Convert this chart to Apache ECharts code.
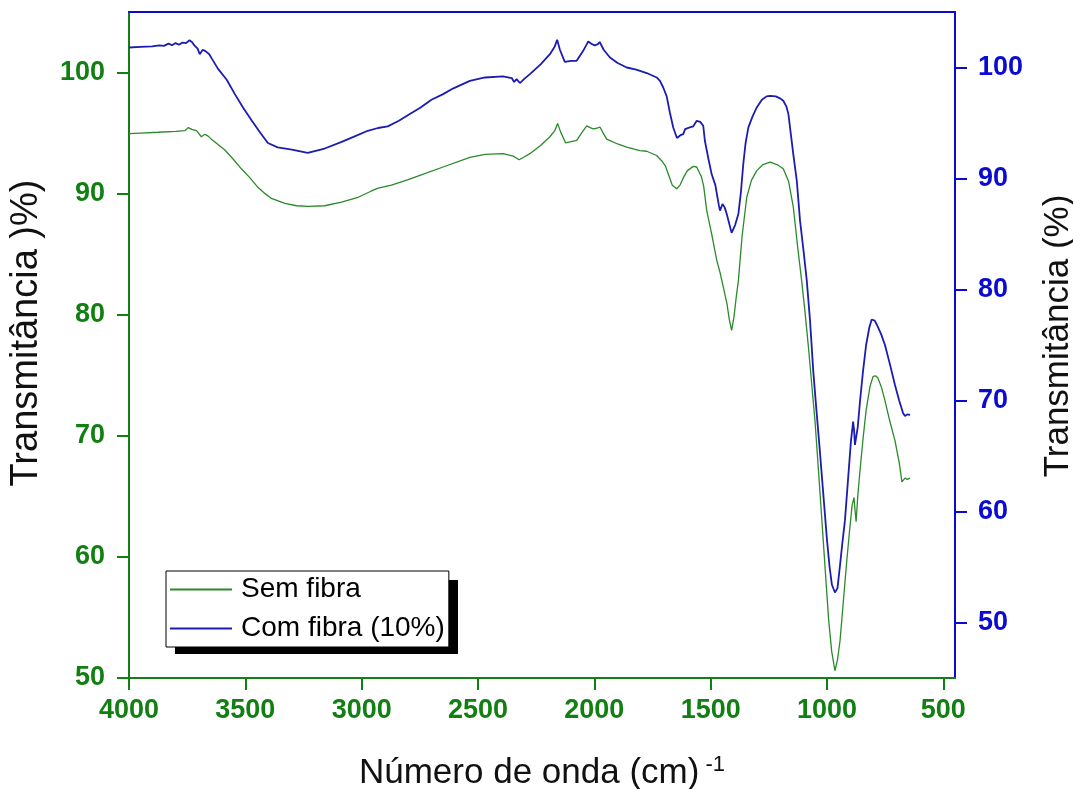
<!DOCTYPE html>
<html>
<head>
<meta charset="utf-8">
<script src="https://cdn.jsdelivr.net/npm/echarts@6/dist/echarts.min.js"></script>
<style>
html,body{margin:0;padding:0;background:#fff;overflow:hidden;}
#chart{width:1073px;height:789px;}
</style>
</head>
<body>
<div id="chart"></div>
<script>
// Tick labels
var xTicks = [4000, 3500, 3000, 2500, 2000, 1500, 1000, 500];
var yLeftTicks = [50, 60, 70, 80, 90, 100];
var yRightTicks = [50, 60, 70, 80, 90, 100];

// Series names
var seriesNames = ['Sem fibra', 'Com fibra (10%)'];

// Sem fibra (green, left axis)
var semWave = [4000,3950,3875,3800,3760,3746,3730,3710,3689,3674,3660,3646,3620,3588,3550,3517,3480,3445,3415,3388,3330,3280,3230,3159,3087,3015,2960,2929,2872,2800,2750,2650,2535,2470,2392,2349,2323,2300,2277,2230,2191,2170,2158,2145,2124,2100,2076,2055,2033,2018,2005,1990,1976,1962,1947,1900,1861,1804,1775,1732,1710,1695,1682,1665,1646,1632,1618,1600,1575,1560,1553,1540,1530,1517,1495,1474,1460,1446,1430,1420,1410,1400,1390,1381,1365,1345,1325,1302,1275,1245,1215,1188,1165,1145,1125,1109,1095,1080,1066,1052,1037,1022,1008,993,980,966,955,944,930,915,903,892,884,878,875,868,858,845,832,815,802,790,781,766,751,730,708,690,678,670,665,655,643];
var semT = [94.95,95.0,95.07,95.15,95.2,95.45,95.3,95.2,94.7,94.9,94.75,94.5,94.1,93.6,92.8,92.05,91.3,90.5,90.0,89.6,89.2,89.0,88.95,89.0,89.3,89.7,90.2,90.45,90.7,91.15,91.5,92.2,93.0,93.25,93.3,93.1,92.8,93.05,93.3,94.0,94.7,95.2,95.8,95.1,94.2,94.3,94.4,95.0,95.6,95.45,95.35,95.4,95.5,95.0,94.5,94.1,93.85,93.56,93.5,93.15,92.7,92.3,91.6,90.7,90.4,90.7,91.3,91.9,92.25,92.2,92.05,91.4,90.6,88.6,86.6,84.5,83.5,82.3,80.9,79.6,78.7,79.8,81.5,82.8,86.5,89.7,91.1,91.9,92.4,92.6,92.4,92.05,91.0,88.9,85.4,82.8,80.3,77.35,74.3,71.3,67.2,63.0,59.0,54.8,52.2,50.6,51.5,53.1,56.3,59.7,62.2,64.3,64.9,63.5,62.9,65.0,67.2,69.8,72.1,74.1,74.9,74.95,74.75,74.0,72.9,71.2,69.6,67.8,66.2,66.1,66.5,66.4,66.5];

// Com fibra (10%) (blue, right axis)
var comWave = [4000,3950,3900,3870,3850,3830,3815,3800,3785,3770,3755,3740,3730,3717,3705,3696,3683,3670,3655,3644,3618,3580,3545,3510,3472,3435,3403,3361,3300,3232,3159,3086,3030,2974,2930,2888,2840,2802,2750,2700,2650,2608,2535,2470,2393,2355,2345,2334,2320,2300,2277,2230,2191,2170,2160,2148,2127,2100,2076,2048,2026,2010,1998,1985,1977,1960,1933,1900,1861,1820,1775,1732,1718,1704,1689,1675,1661,1645,1630,1618,1610,1603,1590,1575,1560,1553,1545,1532,1525,1510,1496,1480,1465,1460,1449,1440,1431,1410,1395,1381,1370,1360,1350,1338,1320,1302,1280,1260,1245,1220,1200,1188,1175,1166,1145,1130,1116,1100,1087,1073,1059,1045,1031,1015,1000,989,979,966,955,945,935,923,910,897,892,888,884,880,875,868,858,845,832,818,808,802,795,785,768,751,730,708,690,673,665,655,643];
var comT = [101.8,101.85,101.9,102.0,101.95,102.15,102.0,102.2,102.05,102.25,102.2,102.45,102.3,101.95,101.7,101.2,101.6,101.45,101.2,100.8,99.9,98.9,97.6,96.4,95.2,94.1,93.2,92.8,92.6,92.3,92.7,93.3,93.8,94.3,94.55,94.7,95.2,95.7,96.35,97.1,97.6,98.1,98.8,99.1,99.2,99.05,98.7,98.95,98.6,99.0,99.4,100.3,101.2,101.9,102.5,101.6,100.5,100.6,100.6,101.5,102.35,102.1,102.0,102.1,102.3,101.6,100.9,100.4,100.0,99.8,99.5,99.1,98.8,98.2,97.4,95.9,94.6,93.65,93.9,94.0,94.45,94.3,94.6,94.7,95.2,95.05,95.1,94.75,93.4,91.8,90.4,89.4,87.6,87.1,87.7,87.4,86.8,85.1,85.8,86.8,88.8,91.3,93.2,94.6,95.6,96.4,97.1,97.4,97.45,97.4,97.2,97.0,96.5,95.8,92.2,89.8,86.2,83.3,80.8,77.2,72.6,69.0,65.5,61.3,57.4,55.0,53.4,52.7,53.1,55.0,57.0,59.2,62.8,66.4,67.3,68.1,67.4,66.0,66.0,67.6,70.0,72.7,75.0,76.6,77.3,77.4,77.2,76.8,76.0,75.0,73.3,71.4,70.0,68.85,68.6,68.75,68.7];

function zip(a, b) { return a.map(function (v, i) { return [v, b[i]]; }); }
function plain(v) { return String(v); }

var GREEN = '#117f11';
var BLUE = '#0a0ad2';
var FONT = '"Liberation Sans", Arial, sans-serif';

var chart = echarts.init(document.getElementById('chart'), null, {renderer: 'canvas'});
chart.setOption({
  animation: false,
  backgroundColor: '#fff',
  grid: {left: 129, right: 118, top: 12, bottom: 111, containLabel: false, outerBoundsMode: 'none'},
  graphic: [{
    type: 'rect', z: 1, silent: true,
    shape: {x: 175, y: 580, width: 283, height: 74},
    style: {fill: '#000'}
  }],
  legend: {
    z: 5,
    orient: 'vertical', left: 166, top: 571,
    padding: [3, 4, 3, 4],
    itemWidth: 62, itemHeight: 2, itemGap: 8, icon: 'rect',
    backgroundColor: '#fff', borderColor: '#000', borderWidth: 1,
    textStyle: {fontSize: 28, fontFamily: FONT, color: '#000', lineHeight: 31, padding: [0, 0, 0, 4]},
    data: seriesNames
  },
  xAxis: [{
    type: 'value', inverse: true, min: 450, max: 4000,
    position: 'bottom',
    name: '{n|Número de onda (cm)}{s| -1}',
    nameLocation: 'middle', nameGap: 76,
    nameTextStyle: {
      rich: {
        n: {fontSize: 35, fontFamily: FONT, color: '#111'},
        s: {fontSize: 22, fontFamily: FONT, color: '#111', verticalAlign: 'top', padding: [0, 0, 16, 0]}
      }
    },
    axisLine: {show: true, lineStyle: {color: GREEN, width: 2}},
    axisTick: {show: true, inside: false, length: 12, lineStyle: {color: GREEN, width: 2}, customValues: xTicks},
    axisLabel: {color: GREEN, fontSize: 27, fontWeight: 'bold', fontFamily: FONT, margin: 19, customValues: xTicks, formatter: plain},
    splitLine: {show: false}
  }, {
    type: 'value', inverse: true, min: 450, max: 4000,
    position: 'top',
    axisLine: {show: true, onZero: false, lineStyle: {color: BLUE, width: 2}},
    axisTick: {show: false}, axisLabel: {show: false}, splitLine: {show: false}
  }],
  yAxis: [{
    type: 'value', min: 50, max: 105, position: 'left',
    name: 'Transmitância )%)', nameLocation: 'middle', nameGap: 83,
    nameTextStyle: {fontSize: 38, fontFamily: FONT, color: '#111', padding: [0, 0, 0, 24]},
    axisLine: {show: true, onZero: false, lineStyle: {color: GREEN, width: 2}},
    axisTick: {show: true, inside: false, length: 12, lineStyle: {color: GREEN, width: 2}, customValues: yLeftTicks},
    axisLabel: {color: GREEN, fontSize: 27, fontWeight: 'bold', fontFamily: FONT, margin: 24, customValues: yLeftTicks, formatter: plain},
    splitLine: {show: false}
  }, {
    type: 'value', min: 45, max: 105, position: 'right',
    name: 'Transmitância (%)', nameLocation: 'middle', nameGap: 86,
    nameTextStyle: {fontSize: 35, fontFamily: FONT, color: '#111', padding: [0, 0, 0, 18]},
    axisLine: {show: true, onZero: false, lineStyle: {color: BLUE, width: 2}},
    axisTick: {show: true, inside: false, length: 12, lineStyle: {color: BLUE, width: 2}, customValues: yRightTicks},
    axisLabel: {color: BLUE, fontSize: 27, fontWeight: 'bold', fontFamily: FONT, margin: 23, customValues: yRightTicks, formatter: plain},
    splitLine: {show: false}
  }],
  series: [{
    name: seriesNames[0], type: 'line', xAxisIndex: 0, yAxisIndex: 0,
    data: zip(semWave, semT), showSymbol: false, symbol: 'none',
    lineStyle: {color: '#2a8a2a', width: 1.3}, itemStyle: {color: '#2a8a2a'}
  }, {
    name: seriesNames[1], type: 'line', xAxisIndex: 0, yAxisIndex: 1,
    data: zip(comWave, comT), showSymbol: false, symbol: 'none',
    lineStyle: {color: '#1c1cb0', width: 1.8}, itemStyle: {color: '#1c1cb0'}
  }]
});
</script>
</body>
</html>
